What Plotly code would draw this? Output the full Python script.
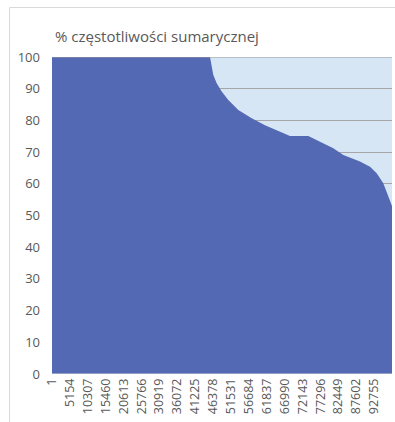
import plotly.graph_objects as go

# Data (category index vs % cumulative frequency)
categories = [1, 45494, 46445, 47424, 48863, 50764, 53643, 57501, 61331, 64210,
              65650, 68530, 73799, 75239, 78118, 80998, 83877, 88686, 91565,
              93494, 95394, 96834, 97612, 97900]
values = [100, 100, 94.3, 91.7, 89.1, 86.4, 83.3, 80.7, 78.5, 77.1,
          76.4, 75.1, 75.1, 74.3, 72.8, 71.2, 69.1, 67.0, 65.4,
          63.3, 60.2, 55.9, 53.8, 53.0]
n_categories = 97900
tick_step = 5153
x_ticks = list(range(1, n_categories, tick_step))
y_ticks = list(range(0, 101, 10))

DARK = "#5369B3"
LIGHT = "#D7E6F4"
TXT = "#595959"
FONT = "Open Sans"

fig = go.Figure()
fig.add_trace(go.Scatter(
    x=categories, y=values, mode="lines", fill="tozeroy",
    line=dict(width=0, color=DARK), fillcolor=DARK, hoverinfo="skip",
))

W, H = 395, 422
ml, mr, mt, mb = 52, 3, 57, 48
fig.update_layout(
    width=W, height=H,
    margin=dict(l=ml, r=mr, t=mt, b=mb, pad=0, autoexpand=False),
    paper_bgcolor="white", plot_bgcolor=LIGHT,
    showlegend=False,
    title=dict(text="% częstotliwości sumarycznej", x=55 / W, xanchor="left",
               y=1 - 37 / H, yanchor="middle",
               font=dict(family=FONT, size=15, color=TXT)),
    xaxis=dict(range=[1, n_categories], tickvals=x_ticks, automargin=False,
               ticktext=[str(v) for v in x_ticks], tickangle=-90,
               showgrid=False, zeroline=False, showline=False,
               tickfont=dict(family=FONT, size=12.5, color=TXT), ticks="",
               ticklabelstandoff=1),
    yaxis=dict(range=[0, 100], tickvals=y_ticks, showgrid=True, automargin=False,
               gridcolor="#A6A6A6", gridwidth=1, zeroline=False,
               showline=False, ticks="", ticklabelstandoff=11,
               tickfont=dict(family=FONT, size=13, color=TXT)),
)

# top gridline over fill
fig.add_shape(type="line", xref="paper", yref="y", x0=0, x1=1, y0=100, y1=100,
              line=dict(color="#9A9A9A", width=1), layer="above")
# bottom axis line
fig.add_shape(type="line", xref="paper", yref="y", x0=0, x1=1, y0=0, y1=0,
              line=dict(color="#D9D9D9", width=1), layer="above")
# chart border (left and top edges)
pw = W - ml - mr
ph = H - mt - mb
fig.add_shape(type="rect", xref="paper", yref="paper",
              x0=(9.5 - ml) / pw, x1=(W + 5 - ml) / pw,
              y0=(H - mb - (H + 5)) / ph, y1=(H - mb - 7.5) / ph,
              line=dict(color="#D9D9D9", width=1), fillcolor="rgba(0,0,0,0)",
              layer="below")

fig.write_html(
    "out.html",
    config={"displayModeBar": False},
    post_script="document.body.style.margin='0';"
                "document.documentElement.style.overflow='hidden';",
)
